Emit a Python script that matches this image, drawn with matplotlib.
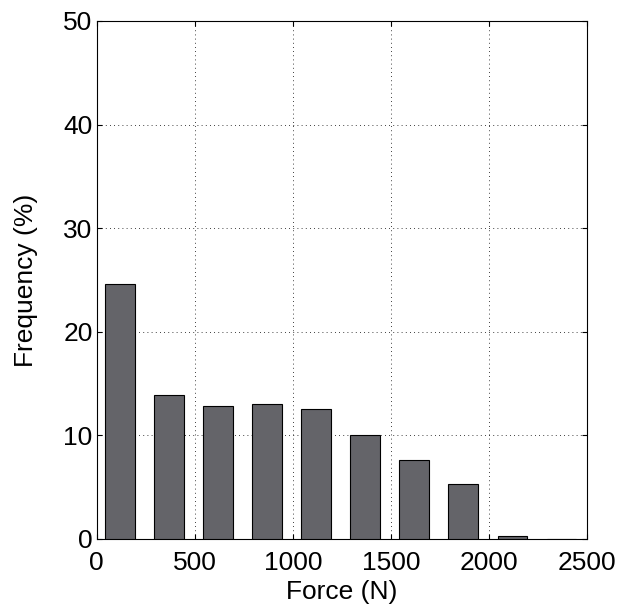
import matplotlib
matplotlib.use("Agg")
import matplotlib.pyplot as plt

plt.rcParams["font.family"] = ["Liberation Sans", "DejaVu Sans"]

bin_centers = [118, 368, 618, 868, 1118, 1368, 1618, 1868, 2118, 2368]
frequency = [24.6, 13.9, 12.8, 13.0, 12.5, 10.0, 7.6, 5.3, 0.25, 0.0]

fig = plt.figure(figsize=(6.24, 6.16), dpi=100)
ax = fig.add_axes([0.155, 0.125, 0.786, 0.841])
ax.bar(bin_centers, frequency, width=150, color="#646469", edgecolor="black",
       linewidth=0.8, zorder=3)
ax.set_xlim(0, 2500)
ax.set_ylim(0, 50)
ax.set_xticks(range(0, 2501, 500))
ax.set_yticks(range(0, 51, 10))
ax.grid(True, color="black", linestyle=(0, (1, 4)), linewidth=0.6, zorder=0)
ax.tick_params(direction="in", labelsize=19, top=True, right=True, pad=3)
ax.tick_params(axis="x", pad=9)
ax.set_xlabel("Force (N)", fontsize=19, labelpad=3)
ax.set_ylabel("Frequency (%)", fontsize=19, labelpad=18)
for s in ax.spines.values():
    s.set_linewidth(0.8)

fig.savefig("out.png", dpi=100)
